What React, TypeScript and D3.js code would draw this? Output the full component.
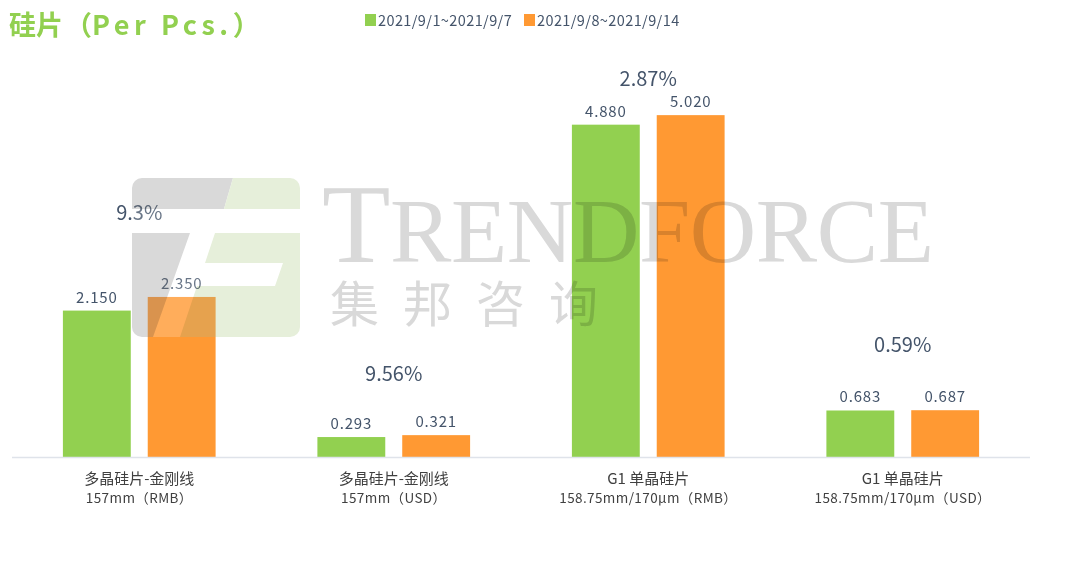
import { useMemo } from "react";
import * as d3 from "d3";

const categories = ["poly-rmb", "poly-usd", "mono-rmb", "mono-usd"];
const categoryLine1 = ["多晶硅片-金刚线", "多晶硅片-金刚线", "G1 单晶硅片", "G1 单晶硅片"];
const categoryLine2 = ["157mm（RMB）", "157mm（USD）", "158.75mm/170μm（RMB）", "158.75mm/170μm（USD）"];

const seriesNames = ["2021/9/1~2021/9/7", "2021/9/8~2021/9/14"];
const week1 = [2.15, 0.293, 4.88, 0.683];
const week2 = [2.35, 0.321, 5.02, 0.687];
const changeLabels = ["9.3%", "9.56%", "2.87%", "0.59%"];
// where the change label sits, in price units
const changeLabelLevel = [3.48, 1.12, 5.45, 1.54];

const COLORS = ["#92d050", "#ff9933"];
const W = 1080;
const H = 562;
const FONT = "'Noto Sans CJK SC', 'Noto Sans', sans-serif";

export default function App() {
  const x = useMemo(() => d3.scaleBand<string>().domain(categories).range([12, 1030]), []);
  const xs = useMemo(
    () => d3.scaleBand<number>().domain([0, 1]).range([0, x.bandwidth()]).paddingInner(0.2).paddingOuter(0.6),
    [x],
  );
  const y = useMemo(() => d3.scaleLinear().domain([0, 6]).range([457, 48.4]), []);

  const series = [week1, week2];

  return (
    <div style={{ margin: -8 }}>
      <svg width={W} height={H} style={{ display: "block", background: "#fff" }} fontFamily={FONT}>
        {/* title */}
        <text x={9} y={35} fill="#92d050" fontSize={27} fontWeight={700}>
          硅片<tspan dx={2}>（</tspan>
          <tspan letterSpacing={4.5}>Per Pcs.</tspan>
          <tspan>）</tspan>
        </text>

        {/* legend */}
        {seriesNames.map((name, i) => (
          <g key={name} transform={`translate(${365 + i * 159},14)`}>
            <rect width={11} height={12} fill={COLORS[i]} />
            <text x={13} y={11.5} fontSize={14.5} letterSpacing={0.4} fill="#44546a">
              {name}
            </text>
          </g>
        ))}

        {/* bars */}
        {categories.map((c, ci) => (
          <g key={c} transform={`translate(${x(c)},0)`}>
            {series.map((vals, si) => (
              <g key={si}>
                <rect
                  x={xs(si)}
                  y={y(vals[ci])}
                  width={xs.bandwidth()}
                  height={y(0) - y(vals[ci])}
                  fill={COLORS[si]}
                />
                <text
                  x={(xs(si) ?? 0) + xs.bandwidth() / 2}
                  y={y(vals[ci]) - 8}
                  textAnchor="middle"
                  fontSize={15}
                  letterSpacing={0.8}
                  fill="#44546a"
                >
                  {vals[ci].toFixed(3)}
                </text>
              </g>
            ))}
            <text
              x={x.bandwidth() / 2}
              y={y(changeLabelLevel[ci])}
              textAnchor="middle"
              fontSize={20}
              fill="#44546a"
            >
              {changeLabels[ci]}
            </text>
            <text x={x.bandwidth() / 2} y={484} textAnchor="middle" fontSize={15} fill="#404040">
              {categoryLine1[ci]}
            </text>
            <text x={x.bandwidth() / 2} y={503} textAnchor="middle" fontSize={13.5} letterSpacing={0.4} fill="#404040">
              {categoryLine2[ci]}
            </text>
          </g>
        ))}

        {/* axis line */}
        <line x1={x.range()[0]} x2={x.range()[1]} y1={y(0) + 0.5} y2={y(0) + 0.5} stroke="#dfe3ea" strokeWidth={1.5} />

        {/* watermark */}
        <defs>
          <clipPath id="logoClip">
            <rect width={168} height={159} rx={10} />
          </clipPath>
        </defs>
        <g transform="translate(132,178)">
          <rect width={168} height={159} rx={10} fill="#fff" opacity={0.2} />
          <g style={{ mixBlendMode: "multiply" }}>
            <polygon points="0,0 101,0 92,31 0,31" fill="#d9d9d9" clipPath="url(#logoClip)" />
            <polygon points="0,55 58,55 21,159 0,159" fill="#d9d9d9" clipPath="url(#logoClip)" />
            <polygon points="101,0 168,0 168,31 92,31" fill="#e6efda" clipPath="url(#logoClip)" />
            <polygon
              points="83,55 168,55 168,159 48,159 65,108 143,108 151,85 73,85"
              fill="#e6efda"
              clipPath="url(#logoClip)"
            />
          </g>
        </g>
        <g style={{ mixBlendMode: "multiply" }} fill="#d9d9d9">
          <text x={322} y={262} fontFamily="'Liberation Serif', serif" fontSize={92} textLength={612} lengthAdjust="spacing">
            <tspan fontSize={112}>T</tspan>RENDFORCE
          </text>
          <text x={330} y={322} fontFamily={FONT} fontSize={49} letterSpacing={24}>
            集邦咨询
          </text>
        </g>
      </svg>
    </div>
  );
}
